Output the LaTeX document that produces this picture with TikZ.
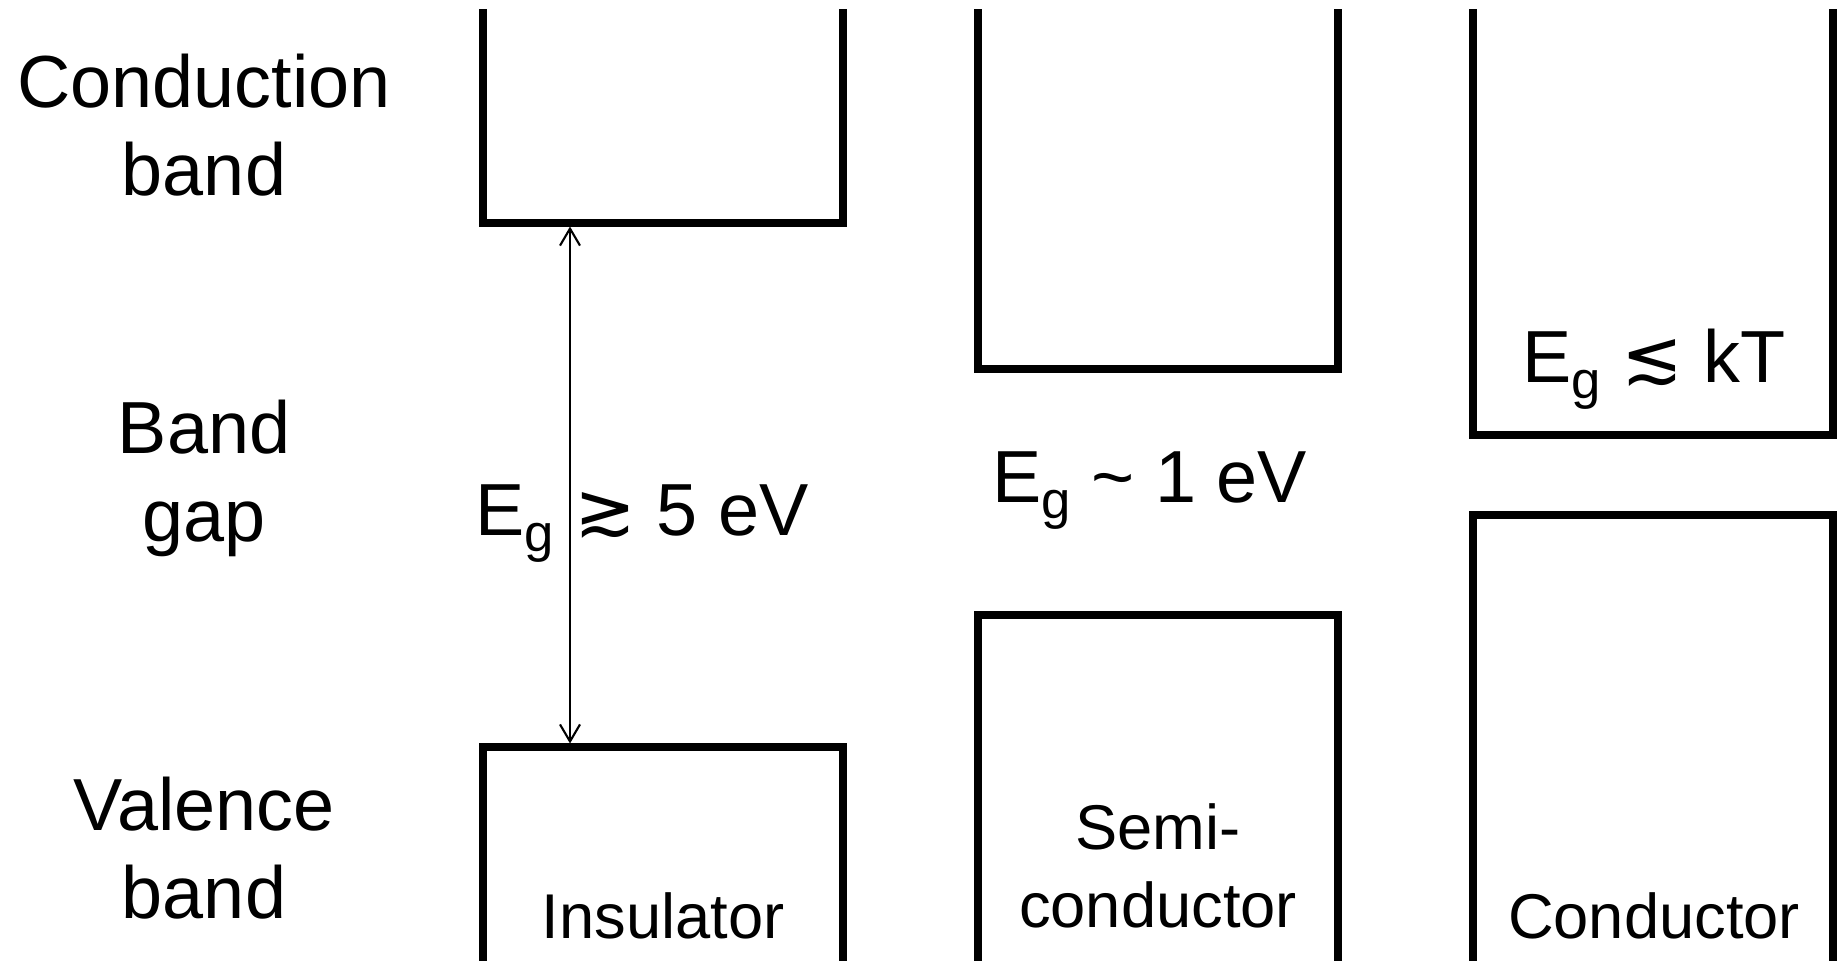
\documentclass[tikz,border=0pt]{standalone}
\usepackage{fontspec}
\setmainfont{Liberation Sans}
\newfontfamily\relfont{DejaVu Sans}
\usetikzlibrary{positioning, arrows.meta}

% gap symbol with its large, lowered subscript
\newcommand{\gapE}{E\raisebox{-0.23em}{\fontsize{15}{15}\selectfont g}}

\begin{document}
\begin{tikzpicture}[
  font=\fontsize{21}{25}\selectfont,
  edge/.style={line width=2.1pt, line join=miter},
  span/.style={{Straight Barb[length=1.7mm,width=2mm]}-{Straight Barb[length=1.7mm,width=2mm]},
               line width=0.6pt},
  side/.style={align=center, inner sep=0pt, anchor=base},
  kind/.style={align=center, inner sep=0pt, anchor=base,
               font=\fontsize{18}{22}\selectfont},
  gapnote/.style={inner sep=0pt, anchor=base},
]
\useasboundingbox (0,0) rectangle (18.47,-9.60);

% row labels (base = last line)
\node[side] (cb-lbl) at (2.04, -1.95) {Conduction\\band};
\node[side] (gap-lbl) at (2.04, -5.41) {Band\\gap};
\node[side] (vb-lbl) at (2.04, -9.18) {Valence\\band};

% insulator
\draw[edge] (4.83, -0.09) -- (4.83, -2.23) -- (8.43, -2.23) -- (8.43, -0.09);
\draw[edge] (4.83, -9.75) -- (4.83, -7.47) -- (8.43, -7.47) -- (8.43, -9.75);
\coordinate (ins-cb) at (5.70, -2.265);
\coordinate (ins-vb) at (5.70, -7.435);
\node[gapnote] (ins-gap) at (6.42, -5.35) {\gapE\ {\relfont ≳} 5 eV};
\draw[span] (ins-cb) -- (ins-vb);
\node[kind] (ins-name) at (6.63, -9.38) {Insulator};

% semiconductor
\draw[edge] (9.78, -0.09) -- (9.78, -3.69) -- (13.38, -3.69) -- (13.38, -0.09);
\draw[edge] (9.78, -9.75) -- (9.78, -6.15) -- (13.38, -6.15) -- (13.38, -9.75);
\node[gapnote] (semi-gap) at (11.50, -5.02) {\gapE\ \textasciitilde\ 1 eV};
\node[kind] (semi-name) at (11.58, -9.27) {Semi-\\conductor};

% conductor
\draw[edge] (14.73, -0.09) -- (14.73, -4.35) -- (18.33, -4.35) -- (18.33, -0.09);
\draw[edge] (14.73, -9.75) -- (14.73, -5.15) -- (18.33, -5.15) -- (18.33, -9.75);
\node[gapnote] (cond-gap) at (16.54, -3.82) {\gapE\ {\relfont ≲} kT};
\node[kind] (cond-name) at (16.54, -9.38) {Conductor};

\end{tikzpicture}
\end{document}
